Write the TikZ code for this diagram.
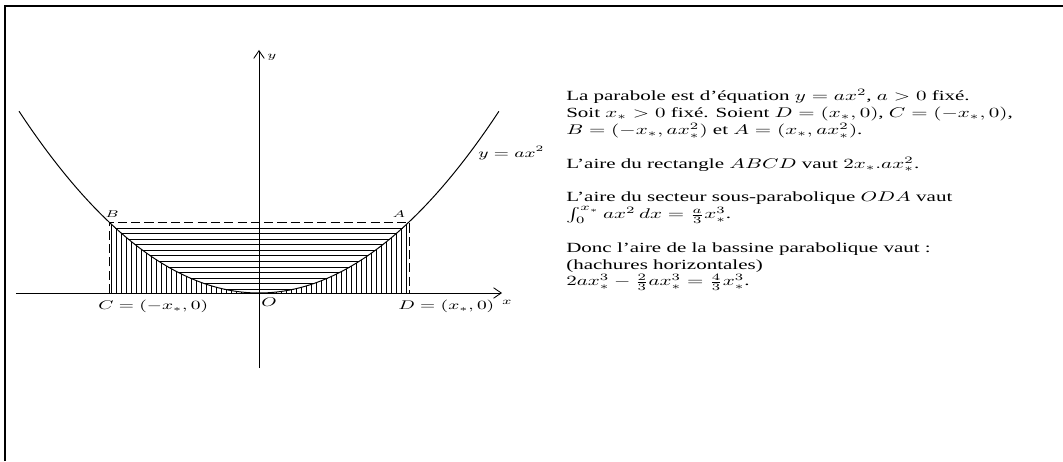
\documentclass[tikz,border=0pt]{standalone}
\usepackage[no-math]{fontspec}
\setmainfont{Liberation Serif}
\usepackage{graphicx}
\usetikzlibrary{arrows.meta,positioning,calc}
\newcommand{\xs}[1]{\scalebox{1.5}[1]{#1}}

\begin{document}
\begin{tikzpicture}[x=2.51cm, y=2.51cm,
  axis/.style={line width=0.6pt, -{Straight Barb[length=5.5pt,width=7.5pt]}},
  curve/.style={line width=0.7pt},
  hatch/.style={line width=0.5pt},
  rect/.style={line width=0.6pt, dash pattern=on 6.5pt off 3pt},
  lbl/.style={inner sep=0pt, font=\small},
  tlbl/.style={inner sep=0pt, font=\scriptsize}
]
\useasboundingbox (-2.59,-1.68) rectangle (8.04,2.93);
% cadre
\draw[line width=1pt] (-2.54,-1.68) -- (-2.54,2.87) -- (8.04,2.87);

\coordinate (O) at (0,0);
\coordinate (C) at (-1.5,0);
\coordinate (D) at (1.5,0);
\coordinate (B) at (-1.5,0.71);
\coordinate (A) at (1.5,0.71);
\coordinate (xmin) at (-2.43,0);
\coordinate (xmax) at (2.43,0);
\coordinate (ymin) at (0,-0.75);
\coordinate (ymax) at (0,2.43);

% hachures verticales
\foreach \i in {0,...,59}{
  \pgfmathsetmacro\x{-1.475+0.05*\i}
  \draw[hatch] (\x,0) -- (\x,{0.3156*\x*\x});
}
% hachures horizontales
\foreach \i in {0,...,11}{
  \pgfmathsetmacro\h{0.65-0.0556*\i}
  \pgfmathsetmacro\w{sqrt(\h/0.3156)}
  \draw[hatch] (-\w,\h) -- (\w,\h);
}

\draw[curve] plot[domain=-2.4:2.4, samples=100] (\x,{0.3156*\x*\x});
\draw[axis] (xmin) -- (xmax);
\draw[axis] (ymin) -- (ymax);
\draw[rect] (C) -- (B) -- (A) -- (D);

\node[tlbl, anchor=base] (lB) at ($(B)+(0.03,0.04)$) {\xs{$B$}};
\node[tlbl, anchor=base] (lA) at ($(A)+(-0.10,0.04)$) {\xs{$A$}};
\node[lbl, anchor=north west] (lC) at ($(C)+(-0.11,-0.07)$) {\xs{$C=(-x_*,0)$}};
\node[lbl, anchor=north west] (lD) at ($(D)+(-0.11,-0.07)$) {\xs{$D=(x_*,0)$}};
\node[lbl, anchor=north west] (lO) at ($(O)+(0.02,-0.05)$) {\xs{$O$}};
\node[tlbl] (lx) at ($(xmax)+(0.05,-0.09)$) {\xs{$x$}};
\node[tlbl] (ly) at ($(ymax)+(0.13,-0.07)$) {\xs{$y$}};
\node[lbl, anchor=west] (eq) at (2.19,1.40) {\xs{$y=ax^2$}};

\node[anchor=base west, inner sep=0pt] (txt) at (3.07,1.92) {\xs{\parbox[t]{240pt}{%
La parabole est d'équation $y=ax^2$, $a>0$ fixé.\\
Soit $x_*>0$ fixé. Soient $D=(x_*,0)$, $C=(-x_*,0)$,\\
$B=(-x_*,ax_*^2)$ et $A=(x_*,ax_*^2)$.\\[\baselineskip]
L'aire du rectangle $ABCD$ vaut $2x_*.ax_*^2$.\\[\baselineskip]
L'aire du secteur sous-parabolique $ODA$ vaut\\
$\int_0^{x_*} ax^2\,dx=\frac{a}{3}x_*^3$.\\[\baselineskip]
Donc l'aire de la bassine parabolique vaut~:\\
(hachures horizontales)\\
$2ax_*^3-\frac{2}{3}ax_*^3=\frac{4}{3}x_*^3$.}}};
\end{tikzpicture}
\end{document}
